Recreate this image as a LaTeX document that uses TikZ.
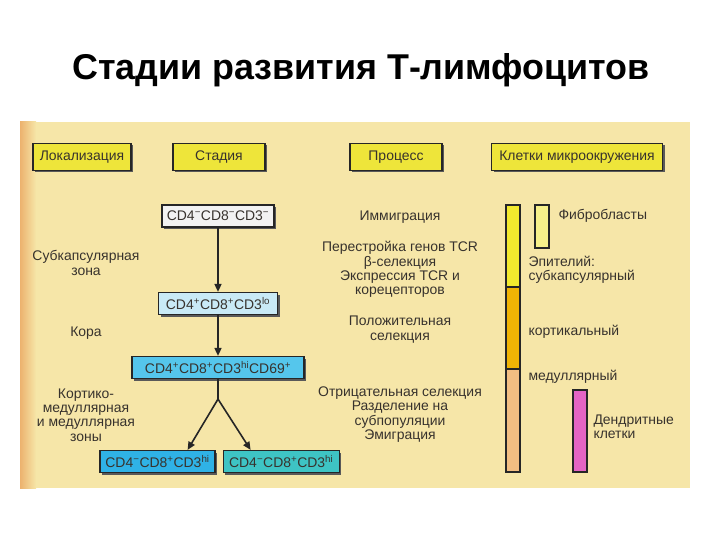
\documentclass[tikz,border=0pt]{standalone}
\usepackage{fontspec}
\setmainfont{Liberation Sans}
\usepackage{xcolor}
\usepackage{tikz}
\usetikzlibrary{arrows.meta, positioning, shadows}
\definecolor{fondo}{RGB}{246, 230, 168}
\definecolor{borde}{RGB}{236, 178, 110}
\definecolor{amarillo}{RGB}{238, 229, 58}
\definecolor{barraam}{RGB}{242, 234, 46}
\definecolor{barranar}{RGB}{240, 180, 5}
\definecolor{barramel}{RGB}{242, 190, 130}
\definecolor{fibro}{RGB}{246, 240, 138}
\definecolor{dendri}{RGB}{228, 100, 196}
\definecolor{celdaA}{RGB}{242, 242, 242}
\definecolor{celdaB}{RGB}{201, 234, 246}
\definecolor{celdaC}{RGB}{85, 198, 236}
\definecolor{celdaD}{RGB}{47, 178, 230}
\definecolor{celdaE}{RGB}{62, 196, 196}
\definecolor{tinta}{RGB}{55, 50, 45}
\newcommand{\cdneg}{\textsuperscript{−}}
\newcommand{\cdpos}{\textsuperscript{+}}
\newcommand{\cdhi}{\textsuperscript{hi}}
\newcommand{\cdlo}{\textsuperscript{lo}}

\begin{document}
\begin{tikzpicture}[x=1bp, y=-1bp,
    head/.style={rectangle, draw=black!85, line width=1.2bp, fill=amarillo, minimum height=27bp,
                 text=tinta, font=\fontsize{14}{16}\selectfont,
                 drop shadow={shadow xshift=2bp, shadow yshift=-2bp, fill=black!65, opacity=1}},
    stage/.style={rectangle, draw=black!85, line width=1.2bp, minimum height=22bp, inner xsep=1bp,
                  text=tinta, font=\fontsize{14}{16}\selectfont,
                  drop shadow={shadow xshift=2bp, shadow yshift=-2bp, fill=black!65, opacity=1}},
    lab/.style={align=center, text=tinta, font=\fontsize{14}{14.5}\selectfont},
    side/.style={anchor=west, align=left, text=tinta, font=\fontsize{14}{14.5}\selectfont},
    bar/.style={draw=black!85, line width=1.4bp},
    arrow/.style={-{Triangle[length=8bp, width=7bp]}, line width=1.6bp, black!85}
]
\useasboundingbox (0,0) rectangle (720,540);
% title and panel
\node (title) at (361,70) {\fontsize{36}{40}\selectfont\bfseries Стадии развития Т-лимфоцитов};
\fill[fondo] (20,122) rectangle (690,488);
\shade[left color=borde, right color=fondo] (20,122) rectangle (36,488);
% headers
\node (hloc)  [head, minimum width=98bp]  at (82,157)  {Локализация};
\node (hstage)[head, minimum width=92bp]  at (219,157) {Стадия};
\node (hproc) [head, minimum width=92bp]  at (396,157) {Процесс};
\node (hcell) [head, minimum width=171bp] at (577,157) {Клетки микроокружения};
% stages
\node (s1) [stage, fill=celdaA, minimum width=112bp] at (218,216) {CD4\cdneg CD8\cdneg CD3\cdneg};
\node (s2) [stage, fill=celdaB, minimum width=119bp] at (218,303.5) {CD4\cdpos CD8\cdpos CD3\cdlo};
\node (s3) [stage, fill=celdaC, minimum width=172bp] at (218,367.5) {CD4\cdpos CD8\cdpos CD3\cdhi CD69\cdpos};
\node (s4) [stage, fill=celdaD, minimum width=115bp] at (157.5,461.5) {CD4\cdneg CD8\cdpos CD3\cdhi};
\node (s5) [stage, fill=celdaE, minimum width=116bp, right=7bp of s4] {CD4\cdneg CD8\cdpos CD3\cdhi};
\coordinate (split) at ([yshift=-20bp]s3.south);
\draw [arrow] (s1) -- (s2);
\draw [arrow] (s2) -- (s3);
\draw [line width=1.6bp, black!85] (s3.south) -- (split);
\draw [arrow] (split) -- ([xshift=-28bp]s4.north east);
\draw [arrow] (split) -- ([xshift=28bp]s5.north west);
% localization
\node (l1) [lab] at (86,263) {Субкапсулярная\\зона};
\node (l2) [lab] at (86,333) {Кора};
\node (l3) [lab] at (86,415) {Кортико-\\медуллярная\\и медуллярная\\зоны};
% processes
\node (p1) [lab] at (400,217) {Иммиграция};
\node (p2) [lab] at (400,269.5) {Перестройка генов TCR\\β-селекция\\Экспрессия TCR и\\корецепторов};
\node (p3) [lab] at (400,329.5) {Положительная\\селекция};
\node (p4) [lab] at (400,414.5) {Отрицательная селекция\\Разделение на\\субпопуляции\\Эмиграция};
% microenvironment
\draw [bar, fill=barraam]  (506,205) rectangle (520,287);
\draw [bar, fill=barranar] (506,287) rectangle (520,369);
\draw [bar, fill=barramel] (506,369) rectangle (520,472);
\draw [bar, fill=fibro]    (535,205) rectangle (549,248);
\draw [bar, fill=dendri]   (573,390) rectangle (587,472);
\node (c1) [side] at (555,216) {Фибробласты};
\node (c2) [side] at (525,270) {Эпителий:\\субкапсулярный};
\node (c3) [side] at (525,332) {кортикальный};
\node (c4) [side] at (525,377) {медуллярный};
\node (c5) [side] at (590,426.5) {Дендритные\\клетки};
\end{tikzpicture}
\end{document}
